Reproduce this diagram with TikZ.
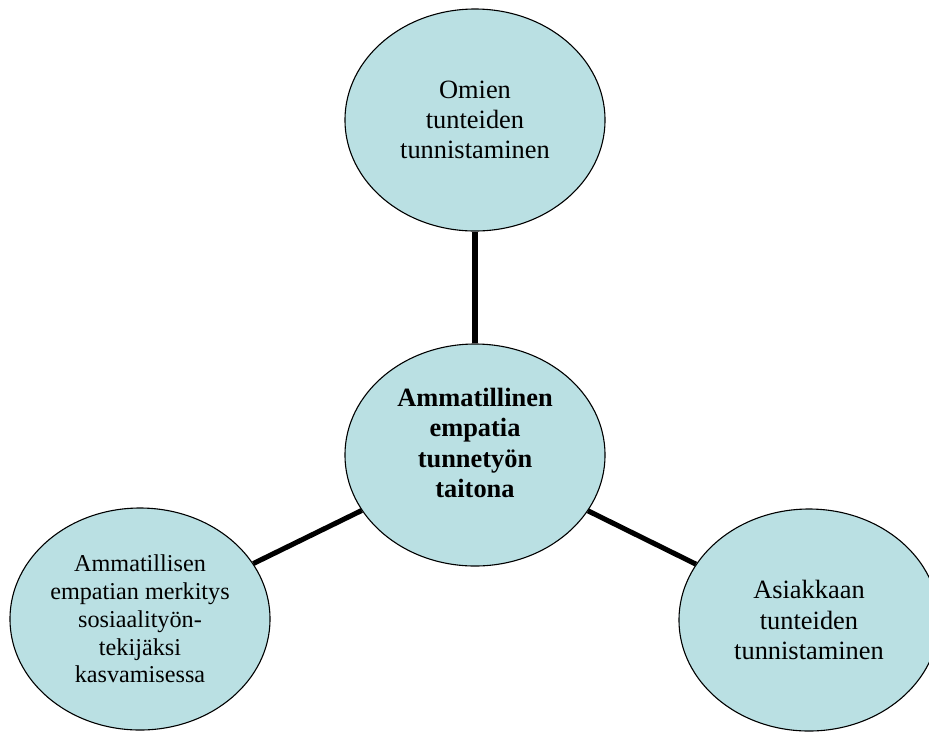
\documentclass[tikz,border=0pt]{standalone}
\usepackage{fontspec}
\setmainfont{Liberation Serif}
\usetikzlibrary{shapes.geometric}
\definecolor{bubblefill}{RGB}{186,224,227}
\begin{document}
\begin{tikzpicture}[x=0.4545pt, y=-0.4545pt,
    bubble/.style={ellipse, draw=black, line width=0.5pt, fill=bubblefill,
        minimum width=118.2pt, minimum height=100.9pt, inner sep=0pt,
        align=center, font=\fontsize{12}{13.8}\selectfont},
    spoke/.style={line width=2.3pt},
]

    \useasboundingbox (0,0) rectangle (929,731);

    % the four ellipses
    \node (own)    [bubble] at (475,120) {Omien\\tunteiden\\tunnistaminen};
    \node (core)   [bubble, label={[name=coretext, align=center,
        font=\fontsize{12}{13.8}\selectfont\bfseries, yshift=5.5pt]center:Ammatillinen\\empatia\\tunnetyön\\taitona}]
        at (475,455) {};
    \node (growth) [bubble, font=\fontsize{11}{12.65}\selectfont] at (140,619)
        {Ammatillisen\\empatian merkitys\\sosiaalityön-\\tekijäksi\\kasvamisessa};
    \node (client) [bubble] at (809,620) {Asiakkaan\\tunteiden\\tunnistaminen};

    % spokes
    \draw[spoke] (core) -- (own);
    \draw[spoke] (core) -- (growth);
    \draw[spoke] (core) -- (client);

\end{tikzpicture}
\end{document}
